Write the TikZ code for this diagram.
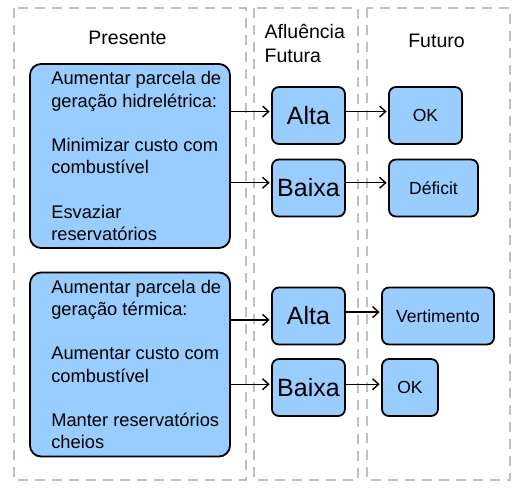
\documentclass[tikz,border=0pt]{standalone}
\usepackage{fontspec}
\setmainfont{Liberation Sans}
\usetikzlibrary{arrows.meta}
\definecolor{boxblue}{HTML}{99CCFF}
\definecolor{panelgray}{HTML}{C0C0C0}

\begin{document}
\begin{tikzpicture}[x = 1pt, y = -1pt,
    panel/.style = {draw = panelgray, line width = 2.5pt, dash pattern = on 10pt off 7pt},
    optbox/.style = {draw, fill = boxblue, line width = 1.8pt, rounded corners = 11pt, minimum width = 200pt, minimum height = 184pt},
    opttext/.style = {anchor = west, align = left, inner sep = 0pt, font = \fontsize{18.3}{22.2}\selectfont},
    casebox/.style = {draw, fill = boxblue, line width = 1.8pt, rounded corners = 7pt, minimum width = 73pt, minimum height = 57pt, inner sep = 0pt, font = \fontsize{25}{30}\selectfont},
    outbox/.style = {draw, fill = boxblue, line width = 1.8pt, rounded corners = 7pt, minimum height = 57pt, inner sep = 0pt, font = \fontsize{17.5}{21}\selectfont},
    title/.style = {font = \fontsize{19.5}{24}\selectfont},
    flow/.style = {-{Straight Barb[length = 6pt, width = 11pt]}, line width = 1.4pt, shorten > = 1.5pt}]
    \useasboundingbox (0,0) rectangle (521,487);
    % Panels
    \draw[panel] (14,8) rectangle (246,480);
    \draw[panel] (254,8) rectangle (358,480);
    \draw[panel] (367,8) rectangle (510,480);
    \node[title] (presente) at (127.5,38) {Presente};
    \node[title, align = left, anchor = north west, inner sep = 0pt] (afluencia) at (264.5,24) {Afluência\\Futura};
    \node[title] (futuro) at (436.5,41) {Futuro};
    % Present decisions
    \node[optbox] (hidro) at (130,156) {};
    \node[opttext] (hidrotext) at ([xshift = 22pt]hidro.west) {Aumentar parcela de\\geração hidrelétrica:\\[22.2pt]Minimizar custo com\\combustível\\[22.2pt]Esvaziar\\reservatórios};
    \node[optbox] (termo) at (130,364.5) {};
    \node[opttext] (termotext) at ([xshift = 22pt]termo.west) {Aumentar parcela de\\geração térmica:\\[22.2pt]Aumentar custo com\\combustível\\[22.2pt]Manter reservatórios\\cheios};
    % Future inflow
    \node[casebox] (alta1) at (308.5,115.5) {Alta};
    \node[casebox] (baixa1) at (308.5,188) {Baixa};
    \node[casebox] (alta2) at (308.5,316) {Alta};
    \node[casebox] (baixa2) at (308.5,387.5) {Baixa};
    % Outcomes
    \node[outbox, minimum width = 73pt] (ok1) at (425.5,115.5) {OK};
    \node[outbox, minimum width = 89pt] (deficit) at (433.5,188) {Déficit};
    \node[outbox, minimum width = 112pt] (vertimento) at (438,316) {Vertimento};
    \node[outbox, minimum width = 56pt] (ok2) at (410,387.5) {OK};
    % Arrows
    \draw[flow] (hidro.east |- alta1.174) -- (alta1.174);
    \draw[flow] (hidro.east |- baixa1.172) -- (baixa1.172);
    \draw[flow] (termo.east |- alta2.186) -- (alta2.186);
    \draw[flow] (termo.east |- baixa2.175) -- (baixa2.175);
    \draw[flow] (alta1.6) -- (alta1.6 -| ok1.west);
    \draw[flow] (baixa1.8) -- (baixa1.8 -| deficit.west);
    \draw[flow] (alta2.6) -- (alta2.6 -| vertimento.west);
    \draw[flow] (baixa2.5) -- (baixa2.5 -| ok2.west);
\end{tikzpicture}
\end{document}
